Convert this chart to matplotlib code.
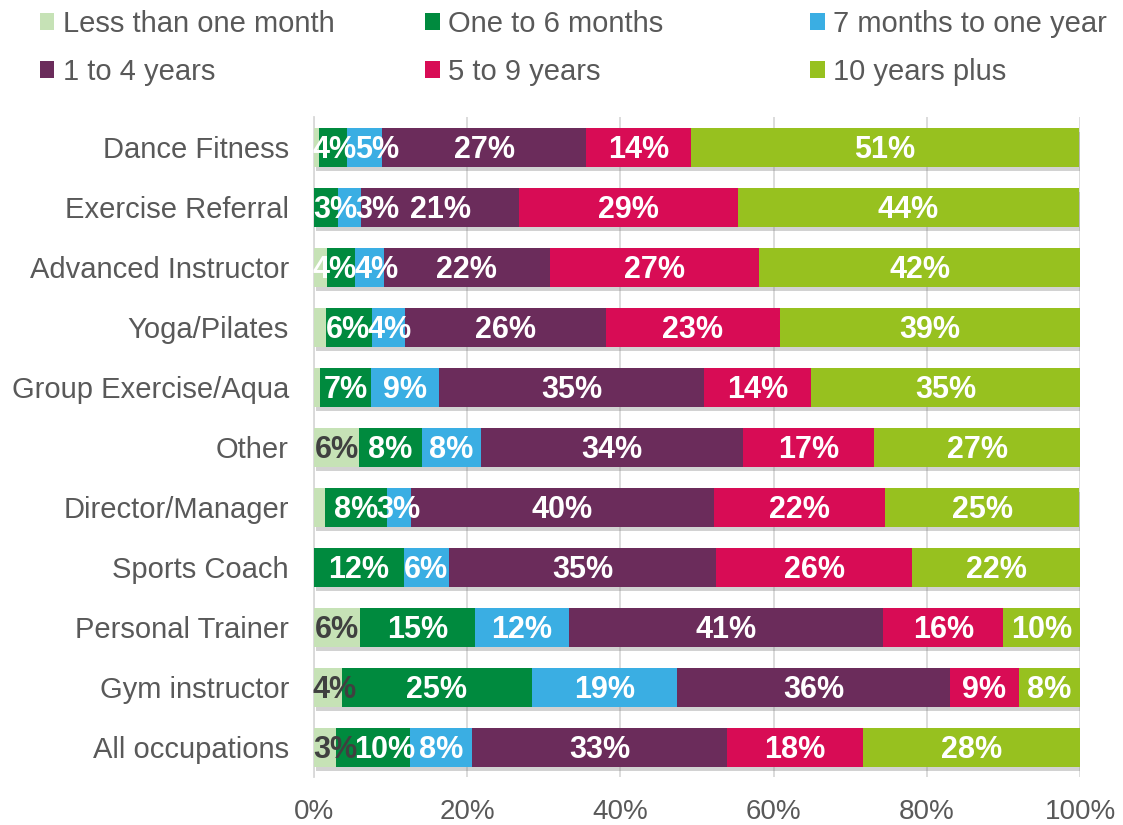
import matplotlib
matplotlib.use("Agg")
from matplotlib import pyplot as plt
from matplotlib import patheffects as pe
from matplotlib.patches import Patch
import numpy as np

plt.rcParams['font.family'] = ['Liberation Sans', 'DejaVu Sans']

categories = ["Dance Fitness", "Exercise Referral", "Advanced Instructor", "Yoga/Pilates",
              "Group Exercise/Aqua", "Other", "Director/Manager", "Sports Coach",
              "Personal Trainer", "Gym instructor", "All occupations"]

series_names = ["Less than one month", "One to 6 months", "7 months to one year",
                "1 to 4 years", "5 to 9 years", "10 years plus"]

less_than_month = [0.7, 0.0, 1.7, 1.6, 0.8, 5.9, 1.4, 0.0, 6.0, 3.6, 2.9]
one_to_6_months = [3.6, 3.1, 3.7, 6.0, 6.6, 8.2, 8.1, 11.7, 15.0, 24.9, 9.6]
seven_to_year = [4.6, 3.1, 3.7, 4.3, 8.9, 7.7, 3.1, 5.9, 12.3, 18.9, 8.1]
one_to_4_years = [26.6, 20.6, 21.7, 26.2, 34.6, 34.2, 39.6, 34.9, 41.0, 35.6, 33.3]
five_to_9_years = [13.7, 28.6, 27.3, 22.7, 14.0, 17.1, 22.3, 25.6, 15.7, 9.0, 17.8]
ten_plus = [50.6, 44.4, 41.9, 39.2, 35.1, 26.9, 25.4, 21.9, 10.1, 8.0, 28.3]

colors = ["#c6e2b6", "#008a3e", "#3aaee3", "#6b2c5b", "#d80c55", "#97c11f"]
label_colors = ["#404040", "white", "white", "white", "white", "white"]

data = [less_than_month, one_to_6_months, seven_to_year, one_to_4_years, five_to_9_years, ten_plus]

fig = plt.figure(figsize=(11.23, 8.25), dpi=100)
ax = fig.add_axes([0.2796, 0.058, 0.6822, 0.80])

y = np.arange(len(categories))
left = np.zeros(len(categories))
row_labels = [[] for _ in categories]
shadow = [pe.withSimplePatchShadow(offset=(1.5, -3), shadow_rgbFace="#808080", alpha=0.35), pe.Normal()]
for i, vals in enumerate(data):
    vals = np.array(vals)
    bars = ax.barh(y, vals, left=left, height=0.65, color=colors[i], zorder=3)
    for b in bars:
        b.set_path_effects(shadow)
    for j, v in enumerate(vals):
        if v >= 2.5:
            t = ax.text(left[j] + v / 2, y[j] + 0.04, "{:.0f}%".format(v), ha="center", va="center",
                        color=label_colors[i], fontsize=22, fontweight="bold", zorder=5)
            row_labels[j].append(t)
    left += vals

ax.set_xlim(0, 100)
ax.set_ylim(len(categories) - 0.5, -0.5)
ax.set_yticks(y)
ax.set_yticklabels(categories, fontsize=21, color="#595959")
ax.set_xticks([0, 20, 40, 60, 80, 100])
ax.set_xticklabels(["0%", "20%", "40%", "60%", "80%", "100%"], fontsize=20, color="#595959")
ax.tick_params(axis="both", length=0)
ax.tick_params(axis="x", pad=16)
ax.tick_params(axis="y", pad=18)
ax.grid(axis="x", color="#d9d9d9", linewidth=1.3, zorder=0)
for s in ["top", "right", "bottom"]:
    ax.spines[s].set_visible(False)
ax.spines["left"].set_color("#d9d9d9")
ax.spines["left"].set_linewidth(1.3)

# nudge crowded labels apart (like the original's label placement)
fig.canvas.draw()
renderer = fig.canvas.get_renderer()
px_per_unit = ax.transData.transform((1, 0))[0] - ax.transData.transform((0, 0))[0]
for texts in row_labels:
    xs = [t.get_position()[0] for t in texts]
    ws = [t.get_window_extent(renderer).width / px_per_unit * 0.95 for t in texts]
    for _ in range(60):
        for k in range(len(xs) - 1):
            overlap = (xs[k] + ws[k] / 2) - (xs[k + 1] - ws[k + 1] / 2)
            if overlap > 0:
                xs[k] -= overlap / 2
                xs[k + 1] += overlap / 2
        if xs[0] - ws[0] / 2 < 0:
            xs[0] = ws[0] / 2
    for t, xv in zip(texts, xs):
        t.set_x(xv)

# legend: three equal-width columns, two rows
col_x = [0.025, 0.368, 0.711]
for c in range(3):
    idx = [c, c + 3]
    hs = [Patch(facecolor=colors[k], edgecolor="none") for k in idx]
    leg = fig.legend(hs, [series_names[k] for k in idx], loc="upper left",
                     bbox_to_anchor=(col_x[c], 1.002), frameon=False, fontsize=21,
                     handlelength=0.5, handleheight=0.5, handletextpad=0.3,
                     labelspacing=0.68, borderaxespad=0)
    for t in leg.get_texts():
        t.set_color("#595959")

fig.savefig("out.png")
